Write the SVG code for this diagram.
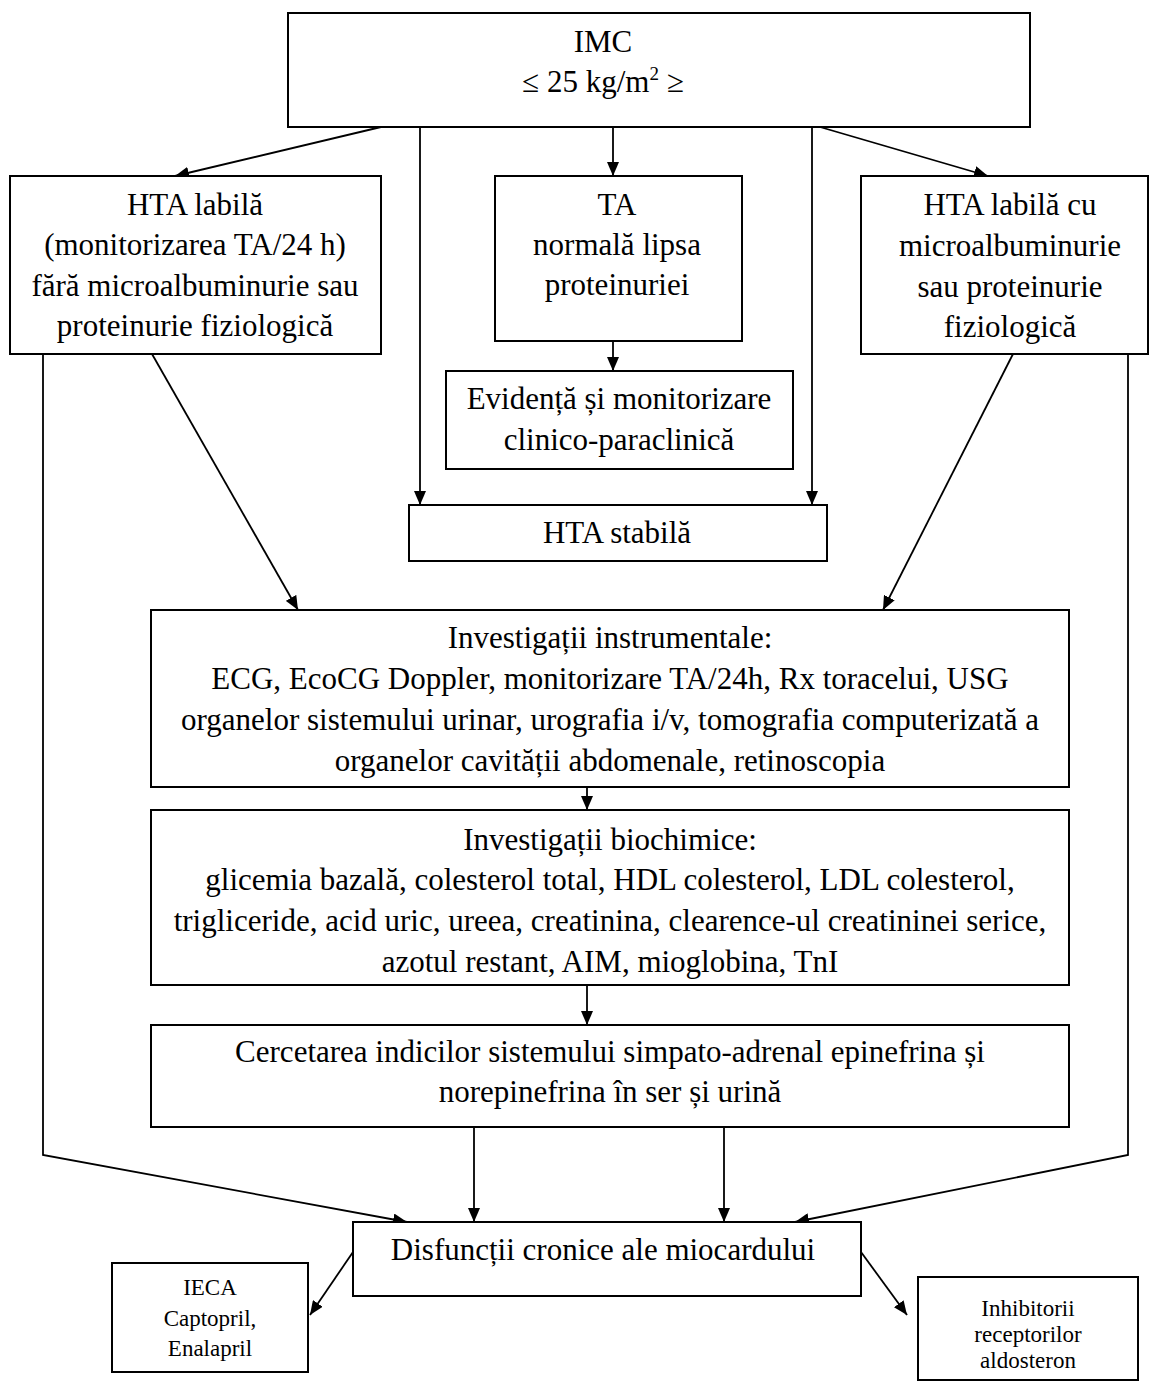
<svg xmlns="http://www.w3.org/2000/svg" width="1149" height="1382" viewBox="0 0 1149 1382">
<style>
.box{fill:#fff;stroke:#000;stroke-width:2}
.t{font-family:"Liberation Serif","Times New Roman",serif;font-size:31px;fill:#000;text-anchor:middle}
.s{font-family:"Liberation Serif","Times New Roman",serif;font-size:23px;fill:#000;text-anchor:middle}
.c{fill:none;stroke:#000;stroke-width:1.8}
</style>
<defs>
<marker id="ah" markerUnits="userSpaceOnUse" markerWidth="14" markerHeight="12" refX="14" refY="6" orient="auto">
<path d="M0,0 L14,6 L0,12 z" fill="#000"/>
</marker>
</defs>
<rect width="1149" height="1382" fill="#fff"/>
<g id="connectors">
<line class="c" x1="381" y1="127" x2="175" y2="176" marker-end="url(#ah)"/>
<line class="c" x1="420" y1="127" x2="420" y2="505" marker-end="url(#ah)"/>
<line class="c" x1="613" y1="127" x2="613" y2="176" marker-end="url(#ah)"/>
<line class="c" x1="812" y1="127" x2="812" y2="505" marker-end="url(#ah)"/>
<line class="c" x1="820" y1="127" x2="988" y2="176" marker-end="url(#ah)"/>
<line class="c" x1="613" y1="333" x2="613" y2="371" marker-end="url(#ah)"/>
<line class="c" x1="152" y1="354" x2="298" y2="610" marker-end="url(#ah)"/>
<line class="c" x1="1013" y1="354" x2="883" y2="610" marker-end="url(#ah)"/>
<polyline class="c" points="43,354 43,1155 407,1222" marker-end="url(#ah)"/>
<polyline class="c" points="1128,354 1128,1155 795,1222" marker-end="url(#ah)"/>
<line class="c" x1="587" y1="787" x2="587" y2="810" marker-end="url(#ah)"/>
<line class="c" x1="587" y1="985" x2="587" y2="1025" marker-end="url(#ah)"/>
<line class="c" x1="474" y1="1127" x2="474" y2="1222" marker-end="url(#ah)"/>
<line class="c" x1="724" y1="1127" x2="724" y2="1222" marker-end="url(#ah)"/>
<line class="c" x1="353" y1="1252" x2="310" y2="1315" marker-end="url(#ah)"/>
<line class="c" x1="861" y1="1252" x2="907" y2="1315" marker-end="url(#ah)"/>
</g>
<g id="imc">
<rect class="box" x="288" y="13" width="742" height="114"/>
<text class="t" x="603" y="52">IMC</text>
<text class="t" x="603" y="92">≤ 25 kg/m<tspan font-size="19" dy="-12">2</tspan><tspan dy="12"> ≥</tspan></text>
</g>
<g id="hta-labila">
<rect class="box" x="10" y="176" width="371" height="178"/>
<text class="t" x="195" y="215">HTA labilă</text>
<text class="t" x="195" y="255">(monitorizarea TA/24 h)</text>
<text class="t" x="195" y="296">fără microalbuminurie sau</text>
<text class="t" x="195" y="336">proteinurie fiziologică</text>
</g>
<g id="ta-normala">
<rect class="box" x="495" y="176" width="247" height="165"/>
<text class="t" x="617" y="215">TA</text>
<text class="t" x="617" y="255">normală lipsa</text>
<text class="t" x="617" y="295">proteinuriei</text>
</g>
<g id="hta-labila-cu">
<rect class="box" x="861" y="176" width="287" height="178"/>
<text class="t" x="1010" y="215">HTA labilă cu</text>
<text class="t" x="1010" y="256">microalbuminurie</text>
<text class="t" x="1010" y="297">sau proteinurie</text>
<text class="t" x="1010" y="337">fiziologică</text>
</g>
<g id="evidenta">
<rect class="box" x="446" y="371" width="347" height="98"/>
<text class="t" x="619" y="409">Evidență și monitorizare</text>
<text class="t" x="619" y="450">clinico-paraclinică</text>
</g>
<g id="hta-stabila">
<rect class="box" x="409" y="505" width="418" height="56"/>
<text class="t" x="617" y="543">HTA stabilă</text>
</g>
<g id="investigatii-instrumentale">
<rect class="box" x="151" y="610" width="918" height="177"/>
<text class="t" x="610" y="648">Investigații instrumentale:</text>
<text class="t" x="610" y="689">ECG, EcoCG Doppler, monitorizare TA/24h, Rx toracelui, USG</text>
<text class="t" x="610" y="730">organelor sistemului urinar, urografia i/v, tomografia computerizată a</text>
<text class="t" x="610" y="771">organelor cavității abdomenale, retinoscopia</text>
</g>
<g id="investigatii-biochimice">
<rect class="box" x="151" y="810" width="918" height="175"/>
<text class="t" x="610" y="850">Investigații biochimice:</text>
<text class="t" x="610" y="890">glicemia bazală, colesterol total, HDL colesterol, LDL colesterol,</text>
<text class="t" x="610" y="931">trigliceride, acid uric, ureea, creatinina, clearence-ul creatininei serice,</text>
<text class="t" x="610" y="972">azotul restant, AIM, mioglobina, TnI</text>
</g>
<g id="cercetarea">
<rect class="box" x="151" y="1025" width="918" height="102"/>
<text class="t" x="610" y="1062">Cercetarea indicilor sistemului simpato-adrenal epinefrina și</text>
<text class="t" x="610" y="1102">norepinefrina în ser și urină</text>
</g>
<g id="disfunctii">
<rect class="box" x="353" y="1222" width="508" height="74"/>
<text class="t" x="603" y="1260">Disfuncții cronice ale miocardului</text>
</g>
<g id="ieca">
<rect class="box" x="112" y="1263" width="196" height="109"/>
<text class="s" x="210" y="1295">IECA</text>
<text class="s" x="210" y="1326">Captopril,</text>
<text class="s" x="210" y="1356">Enalapril</text>
</g>
<g id="inhibitorii">
<rect class="box" x="918" y="1277" width="220" height="103"/>
<text class="s" x="1028" y="1316">Inhibitorii</text>
<text class="s" x="1028" y="1342">receptorilor</text>
<text class="s" x="1028" y="1368">aldosteron</text>
</g>
</svg>
